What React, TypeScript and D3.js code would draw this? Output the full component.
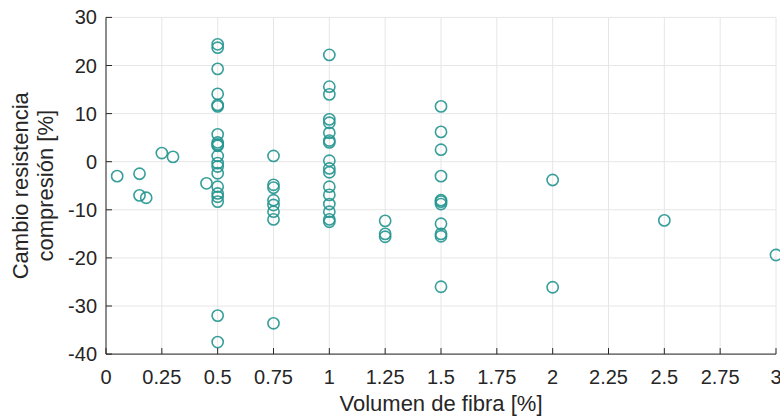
import React from "react";
import * as d3 from "d3";

// Fiber volume fractions [%] and the measured change in compressive strength [%]
const fiberVolumes: number[] = [0.05, 0.15, 0.18, 0.25, 0.3, 0.45, 0.5, 0.75, 1, 1.25, 1.5, 2, 2.5, 3];

const changesAt005: number[] = [-3.0];
const changesAt015: number[] = [-2.5, -7.0];
const changesAt018: number[] = [-7.5];
const changesAt025: number[] = [1.8];
const changesAt030: number[] = [1.0];
const changesAt045: number[] = [-4.5];
const changesAt050: number[] = [24.4, 23.7, 19.3, 14.1, 11.8, 11.5, 5.7, 4.0, 3.6, 3.3, 1.2, -0.3, -1.0, -2.4, -5.2, -6.6, -7.3, -8.3, -32.0, -37.5];
const changesAt075: number[] = [1.2, -4.8, -5.4, -8.0, -9.0, -10.4, -12.0, -33.6];
const changesAt100: number[] = [22.2, 15.6, 14.0, 8.8, 8.1, 6.0, 4.4, 4.0, 0.2, -1.4, -2.2, -5.2, -6.9, -8.8, -10.4, -12.0, -12.5];
const changesAt125: number[] = [-12.3, -15.0, -15.6];
const changesAt150: number[] = [11.5, 6.2, 2.5, -3.0, -8.0, -8.3, -8.8, -12.9, -15.0, -15.5, -26.0];
const changesAt200: number[] = [-3.8, -26.1];
const changesAt250: number[] = [-12.2];
const changesAt300: number[] = [-19.4];

const changeGroups: number[][] = [
  changesAt005, changesAt015, changesAt018, changesAt025, changesAt030, changesAt045,
  changesAt050, changesAt075, changesAt100, changesAt125, changesAt150, changesAt200,
  changesAt250, changesAt300,
];

const xTicks: number[] = [0, 0.25, 0.5, 0.75, 1, 1.25, 1.5, 1.75, 2, 2.25, 2.5, 2.75, 3];
const yTicks: number[] = [-40, -30, -20, -10, 0, 10, 20, 30];

const xTitle = "Volumen de fibra [%]";
const yTitleLines = ["Cambio resistencia", "compresión [%]"];

export default function App() {
  const W = 780;
  const H = 417;
  const left = 106;
  const right = 776;
  const top = 17.4;
  const bottom = 354.1;

  const x = d3.scaleLinear().domain([0, 3]).range([left, right]);
  const y = d3.scaleLinear().domain([-40, 30]).range([bottom, top]);

  const color = "#22958f";
  const axisColor = "#262626";
  const gridColor = "#e6e6e6";
  const font = "Arial, 'Liberation Sans', sans-serif";
  const fs = 20;
  const pts = fiberVolumes.flatMap((v, i) => changeGroups[i].map((c) => ({ x: v, y: c })));

  return (
    <svg
      width={W}
      height={H}
      style={{ position: "absolute", left: 0, top: 0, display: "block", background: "#fff" }}
    >
      <rect x={0} y={0} width={W} height={H} fill="#fff" />
      {xTicks.map((t) => (
        <line key={"gx" + t} x1={x(t)} x2={x(t)} y1={top} y2={bottom} stroke={gridColor} strokeWidth={1} />
      ))}
      {yTicks.map((t) => (
        <line key={"gy" + t} x1={left} x2={right} y1={y(t)} y2={y(t)} stroke={gridColor} strokeWidth={1} />
      ))}
      {pts.map((p, i) => (
        <circle
          key={i}
          cx={x(p.x)}
          cy={y(p.y)}
          r={5.6}
          fill="none"
          stroke={color}
          strokeWidth={1.6}
          strokeOpacity={0.9}
        />
      ))}
      <line x1={left} x2={left} y1={top} y2={bottom} stroke={axisColor} strokeWidth={1} />
      <line x1={left} x2={right} y1={bottom} y2={bottom} stroke={axisColor} strokeWidth={1} />
      {xTicks.map((t) => (
        <g key={"xt" + t}>
          <line x1={x(t)} x2={x(t)} y1={bottom} y2={bottom - 6} stroke={axisColor} strokeWidth={1} />
          <text
            x={x(t)}
            y={384}
            textAnchor="middle"
            fontFamily={font}
            fontSize={fs}
            fill={axisColor}
          >
            {String(t)}
          </text>
        </g>
      ))}
      {yTicks.map((t) => (
        <g key={"yt" + t}>
          <line x1={left} x2={left + 6} y1={y(t)} y2={y(t)} stroke={axisColor} strokeWidth={1} />
          <text
            x={left - 9}
            y={y(t)}
            dy="0.35em"
            textAnchor="end"
            fontFamily={font}
            fontSize={fs}
            fill={axisColor}
          >
            {String(t)}
          </text>
        </g>
      ))}
      <text
        x={441}
        y={411}
        textAnchor="middle"
        fontFamily={font}
        fontSize={22}
        fill={axisColor}
      >
        {xTitle}
      </text>
      {yTitleLines.map((line, i) => (
        <text
          key={line}
          transform={`translate(${28 + i * 25}, ${(top + bottom) / 2}) rotate(-90)`}
          textAnchor="middle"
          fontFamily={font}
          fontSize={22}
          fill={axisColor}
        >
          {line}
        </text>
      ))}
    </svg>
  );
}
